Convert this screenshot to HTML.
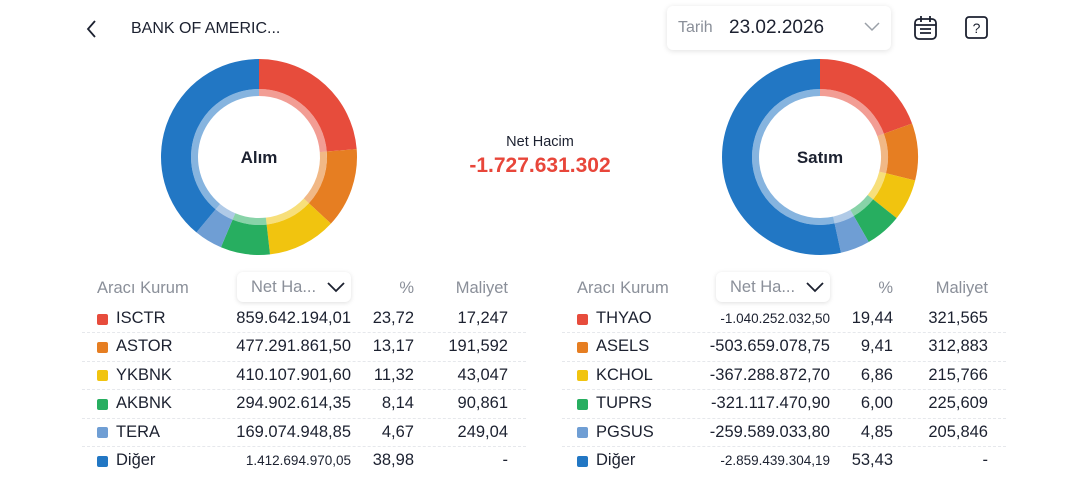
<!DOCTYPE html>
<html><head><meta charset="utf-8">
<style>
*{box-sizing:border-box;margin:0;padding:0}
body{width:1080px;height:498px;background:#fff;font-family:"Liberation Sans",sans-serif;color:#1c2130;position:relative;overflow:hidden}
.abs{position:absolute}
.cell{position:absolute;white-space:nowrap}
.sep{position:absolute;height:0;border-top:1px dashed #e6e8ec}
.dd{position:absolute;height:30px;border-radius:6px;background:#fff;box-shadow:0 1px 5px rgba(0,0,0,0.13);font-size:16px;color:#8a8f99}
</style></head><body>
<svg class="abs" style="left:82px;top:18px" width="20" height="22"><path d="M13 3 L6 11 L13 19" stroke="#1c2130" stroke-width="1.8" fill="none"/></svg>
<div class="abs" style="left:131px;top:20px;font-size:16px">BANK OF AMERIC...</div>
<div class="abs" style="left:667px;top:6px;width:224px;height:44px;border-radius:6px;box-shadow:0 1px 6px rgba(0,0,0,0.12);background:#fff">
  <span class="abs" style="left:11px;top:13px;font-size:16px;color:#8a8f99">Tarih</span>
  <span class="abs" style="left:62px;top:11px;font-size:19px;color:#1c2130">23.02.2026</span>
  <svg class="abs" style="left:197px;top:16px" width="16" height="10"><path d="M1 1 L8 8 L15 1" stroke="#9aa0a8" stroke-width="1.5" fill="none"/></svg>
</div>
<svg class="abs" style="left:913px;top:15px" width="26" height="26"><rect x="2" y="4" width="21" height="20" rx="4" stroke="#1c2130" stroke-width="1.8" fill="none"/><path d="M8 1v6M17 1v6M2 10h21M7 14h11M7 18h11" stroke="#1c2130" stroke-width="1.8"/></svg>
<svg class="abs" style="left:964px;top:15px" width="26" height="26"><rect x="2" y="2" width="21" height="21" rx="3" stroke="#1c2130" stroke-width="1.8" fill="none"/><text x="12.5" y="18" font-size="14" text-anchor="middle" fill="#1c2130" font-family="Liberation Sans">?</text></svg>

<svg id="donutL" class="abs" style="left:159px;top:57px" width="200" height="200"></svg>
<svg id="donutR" class="abs" style="left:720px;top:57px" width="200" height="200"></svg>

<div class="abs" style="left:440px;top:134px;width:200px;text-align:center;font-size:14.5px">Net Hacim</div>
<div class="abs" style="left:420px;top:154px;width:240px;text-align:center;font-size:21px;font-weight:bold;color:#e8463a">-1.727.631.302</div>

<div id="tables"></div>

<script>
const colors=["#e74c3c","#e67e22","#f1c40f","#27ae60","#6f9ed4","#2277c4"];
const buyNames=["ISCTR","ASTOR","YKBNK","AKBNK","TERA","Diğer"];
const buyValues=["859.642.194,01","477.291.861,50","410.107.901,60","294.902.614,35","169.074.948,85","1.412.694.970,05"];
const buyPct=[23.72,13.17,11.32,8.14,4.67,38.98];
const buyCost=["17,247","191,592","43,047","90,861","249,04","-"];
const sellNames=["THYAO","ASELS","KCHOL","TUPRS","PGSUS","Diğer"];
const sellValues=["-1.040.252.032,50","-503.659.078,75","-367.288.872,70","-321.117.470,90","-259.589.033,80","-2.859.439.304,19"];
const sellPct=[19.44,9.41,6.86,6.00,4.85,53.43];
const sellCost=["321,565","312,883","215,766","225,609","205,846","-"];
const NS="http://www.w3.org/2000/svg";
function arc(cx,cy,r0,r1,a0,a1){
  const p=(r,a)=>[cx+r*Math.sin(a),cy-r*Math.cos(a)];
  const l=a1-a0>Math.PI?1:0;
  const [x1,y1]=p(r1,a0),[x2,y2]=p(r1,a1),[x3,y3]=p(r0,a1),[x4,y4]=p(r0,a0);
  return `M${x1} ${y1}A${r1} ${r1} 0 ${l} 1 ${x2} ${y2}L${x3} ${y3}A${r0} ${r0} 0 ${l} 0 ${x4} ${y4}Z`;
}
function donut(id,pcts,label,nm){
  const svg=document.getElementById(id);
  const tot=pcts.reduce((a,b)=>a+b,0);let a=0;
  pcts.forEach((v,i)=>{
    const a1=a+v/tot*2*Math.PI;
    const p=document.createElementNS(NS,"path");
    p.setAttribute("d",arc(100,100,68,98,a,a1));p.setAttribute("fill",colors[i]);
    
    
    svg.appendChild(p);
    const q=document.createElementNS(NS,"path");
    q.setAttribute("d",arc(100,100,61,68,a,a1));q.setAttribute("fill",colors[i]);q.setAttribute("opacity","0.55");
    svg.appendChild(q);
    a=a1;
  });
  const t=document.createElementNS(NS,"text");
  t.setAttribute("x",100);t.setAttribute("y",106);t.setAttribute("text-anchor","middle");
  t.setAttribute("font-size","17");t.setAttribute("font-weight","bold");t.setAttribute("fill","#1c2130");
  t.setAttribute("font-family","Liberation Sans");t.textContent=label;
  
  
  svg.appendChild(t);
}
donut("donutL",buyPct,"Alım","buy");
donut("donutR",sellPct,"Satım","sell");

function table(x0,names,vals,pcts,costs,nm,valR,pctR,costR,small){
  const root=document.getElementById("tables");
  const mk=(html,style)=>{const d=document.createElement("div");d.className="cell";d.style.cssText=style;d.innerHTML=html;root.appendChild(d);return d;};
  let h=mk("Aracı Kurum",`left:${x0+15}px;top:279px;font-size:16.5px;color:#8a8f99`);
  
  
  const dd=document.createElement("div");dd.className="dd";
  dd.style.cssText=`left:${valR-114}px;top:272px;width:114px`;
  dd.innerHTML=`<span class="abs" style="left:14px;top:6px;font-size:16.5px">Net Ha...</span><svg class="abs" style="left:90px;top:10px" width="18" height="11"><path d="M1 1 L9 9 L17 1" stroke="#1c2130" stroke-width="1.8" fill="none"/></svg>`;
  
  
  root.appendChild(dd);
  h=mk("%",`left:${pctR-40}px;width:40px;text-align:right;top:279px;font-size:16.5px;color:#8a8f99`);
  
  
  h=mk("Maliyet",`left:${costR-80}px;width:80px;text-align:right;top:279px;font-size:16.5px;color:#8a8f99`);
  
  
  names.forEach((n,i)=>{
    const yc=319+i*28.4;
    if(i>0){const s=mk("",`left:${x0}px;width:444px;top:${yc-15}px`);s.className="sep";}
    const sw=mk("",`left:${x0+15}px;top:${yc-5.5}px;width:11px;height:11px;border-radius:2px;background:${colors[i]}`);
    
    
    const c=mk(n,`left:${x0+34}px;top:${yc-10}px;font-size:16.5px`);
    
    
    const fs=small(vals[i])?13.5:16.5;
    const v=mk(vals[i],`left:${valR-200}px;width:200px;text-align:right;top:${yc-(fs<14?8:10)}px;font-size:${fs}px`);
    
    
    const p=mk(pcts[i].toFixed(2).replace(".",","),`left:${pctR-80}px;width:80px;text-align:right;top:${yc-10}px;font-size:16.5px`);
    
    
    const k=mk(costs[i],`left:${costR-100}px;width:100px;text-align:right;top:${yc-10}px;font-size:16.5px`);
    
    
  });
}
table(82,buyNames,buyValues,buyPct,buyCost,"buy",351,414,508,v=>v.length>14);
table(562,sellNames,sellValues,sellPct,sellCost,"sell",830,893,988,v=>v.length>15);
</script>
</body></html>
